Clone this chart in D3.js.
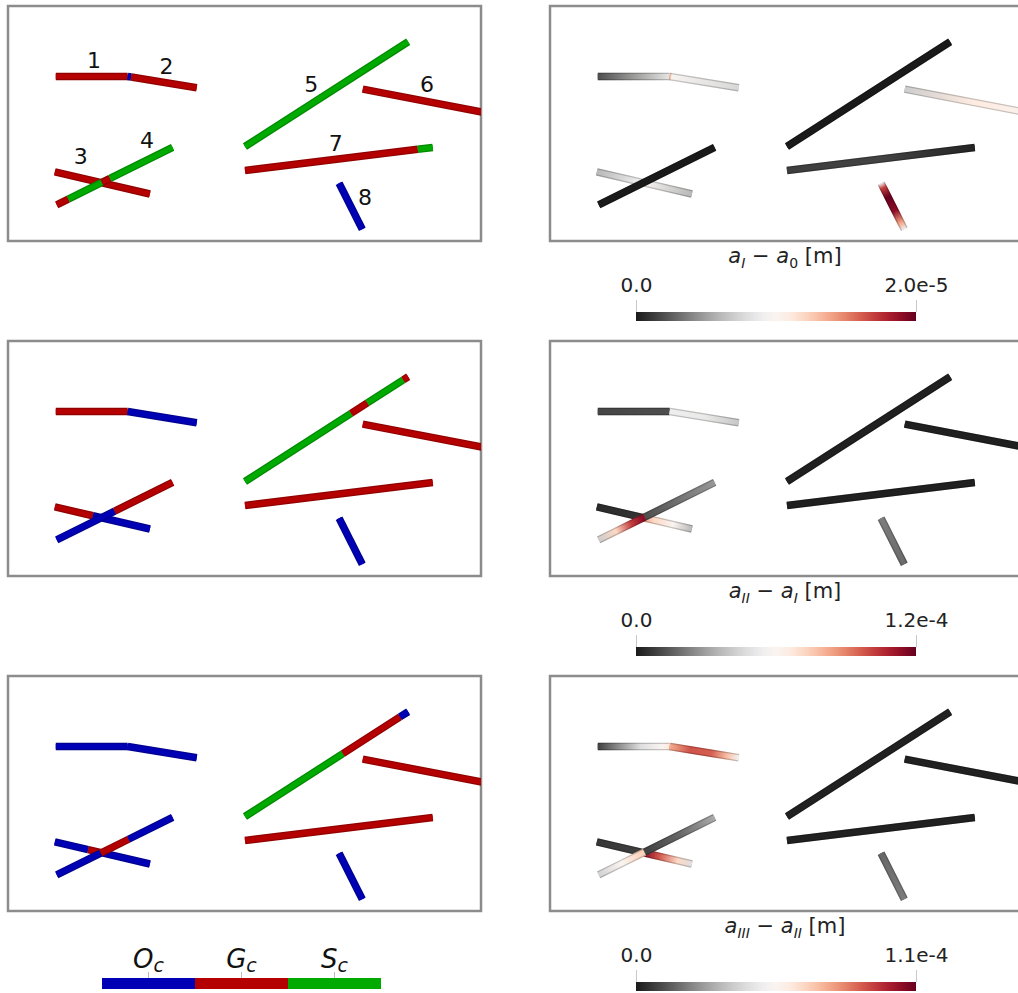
<!DOCTYPE html>
<html>
<head>
<meta charset="UTF-8">
<script src="https://d3js.org/d3.v7.min.js"></script>
<style>
  body { margin: 0; background: #fff; }
  text { font-family: "DejaVu Sans", sans-serif; }
</style>
</head>
<body>
<svg id="chart"></svg>
<script>
// fracture geometry in model units (x 0..100, y 0..50)
const fractureIds = [1, 2, 3, 4, 5, 6, 7, 8];
const fractureStart = [[10.1, 35.0], [25.3, 35.0], [9.9, 14.7], [10.3, 7.7], [50.1, 20.1], [75.0, 32.3], [50.1, 15.0], [70.0, 12.3]];
const fractureEnd = [[25.3, 35.0], [39.9, 32.6], [30.0, 10.0], [34.8, 19.9], [84.6, 42.4], [104.0, 26.7], [89.8, 19.9], [74.9, 2.5]];
const labelPos = [[18.2, 38.5], [33.5, 37.2], [15.4, 17.9], [29.4, 21.3], [64.1, 33.4], [88.6, 33.2], [69.3, 20.8], [75.5, 9.3]];

// contact state along each fracture: [from, to, state]
const stateNames = ["O", "G", "S"];
const stateColors = ["#0000b4", "#b40000", "#00aa00"];
const statesI = [
  [[0, 1, "G"]],
  [[0, 0.05, "O"], [0.05, 1, "G"]],
  [[0, 1, "G"]],
  [[0, 0.1, "G"], [0.1, 0.39, "S"], [0.39, 0.46, "G"], [0.46, 1, "S"]],
  [[0, 1, "S"]],
  [[0, 1, "G"]],
  [[0, 0.92, "G"], [0.92, 1, "S"]],
  [[0, 1, "O"]]
];
const statesII = [
  [[0, 1, "G"]],
  [[0, 1, "O"]],
  [[0, 0.4, "G"], [0.4, 1, "O"]],
  [[0, 0.5, "O"], [0.5, 1, "G"]],
  [[0, 0.65, "S"], [0.65, 0.75, "G"], [0.75, 0.97, "S"], [0.97, 1, "G"]],
  [[0, 1, "G"]],
  [[0, 1, "G"]],
  [[0, 1, "O"]]
];
const statesIII = [
  [[0, 1, "O"]],
  [[0, 1, "O"]],
  [[0, 0.35, "O"], [0.35, 0.5, "G"], [0.5, 1, "O"]],
  [[0, 0.38, "O"], [0.38, 0.62, "G"], [0.62, 1, "O"]],
  [[0, 0.6, "S"], [0.6, 0.95, "G"], [0.95, 1, "O"]],
  [[0, 1, "G"]],
  [[0, 1, "G"]],
  [[0, 1, "O"]]
];

// aperture increments along each fracture, micrometres: [position, value]
const incI = [
  [[0, 2], [1, 8.4]],
  [[0, 14], [0.03, 9.6], [1, 7.6]],
  [[0, 6], [0.45, 9], [0.5, 9.6], [1, 6]],
  [[0, 0], [1, 0]],
  [[0, 0], [1, 0]],
  [[0, 7], [0.5, 11], [1, 10]],
  [[0, 1.4], [0.5, 1.6], [1, 0.4]],
  [[0, 9], [0.1, 17], [0.3, 20], [0.6, 19], [0.85, 14], [1, 9]]
];
const incII = [
  [[0, 10], [1, 12]],
  [[0, 54], [0.5, 52], [1, 40]],
  [[0, 4], [0.49, 6], [0.5, 84], [0.6, 72], [0.8, 60], [1, 36]],
  [[0, 42], [0.15, 72], [0.28, 102], [0.38, 114], [0.39, 114], [0.4, 12], [1, 28]],
  [[0, 1.5], [1, 1.5]],
  [[0, 1.5], [1, 1.5]],
  [[0, 1.5], [1, 1.5]],
  [[0, 22], [1, 18]]
];
const incIII = [
  [[0, 8], [0.6, 44], [0.9, 55], [1, 62]],
  [[0, 75], [0.3, 90], [0.6, 88], [0.85, 70], [1, 52]],
  [[0, 6], [0.49, 8], [0.5, 105], [0.65, 90], [0.85, 66], [1, 44]],
  [[0, 40], [0.2, 55], [0.38, 68], [0.39, 68], [0.4, 8], [0.7, 16], [1, 30]],
  [[0, 1.5], [1, 1.5]],
  [[0, 1.5], [1, 1.5]],
  [[0, 1.5], [1, 1.5]],
  [[0, 16], [1, 20]]
];
const incMax = [20, 120, 110];
const titleSubs = [["I", "0"], ["II", "I"], ["III", "II"]];

const stageStates = [statesI, statesII, statesIII];
const stageInc = [incI, incII, incIII];

const W = 1018, H = 993;
const boxW = 473, boxH = 235;
const rowTop = [6, 341, 676];
const leftX = 8, rightX = 550;
const barW = 7.5;

const svg = d3.select("#chart").attr("width", W).attr("height", H);
const defs = svg.append("defs");
defs.append("clipPath").attr("id", "boxClip")
  .append("rect").attr("width", boxW).attr("height", boxH);

const x = d3.scaleLinear().domain([0, 100]).range([0, boxW]);
const y = d3.scaleLinear().domain([0, 50]).range([boxH, 0]);
const stateColor = d3.scaleOrdinal().domain(stateNames).range(stateColors);
const ramp = t => d3.interpolateRdGy(1 - Math.max(0, Math.min(1, t)));

const lerp = (a, b, t) => [a[0] + (b[0] - a[0]) * t, a[1] + (b[1] - a[1]) * t];

function panelBox(g) {
  g.append("rect")
    .attr("width", boxW).attr("height", boxH)
    .attr("fill", "none").attr("stroke", "#8c8c8c").attr("stroke-width", 2.5);
}

rowTop.forEach((top, r) => {
  // left: contact states
  const gl = svg.append("g").attr("transform", `translate(${leftX},${top})`);
  panelBox(gl);
  const sl = gl.append("g").attr("clip-path", "url(#boxClip)");
  fractureIds.forEach((id, i) => {
    const pieces = stageStates[r][i].map(([t0, t1, s]) => ({
      p0: lerp(fractureStart[i], fractureEnd[i], t0),
      p1: lerp(fractureStart[i], fractureEnd[i], t1),
      s
    }));
    const fg = sl.append("g");
    fg.selectAll("line.edge").data(pieces).join("line").attr("class", "edge")
      .attr("x1", d => x(d.p0[0])).attr("y1", d => y(d.p0[1]))
      .attr("x2", d => x(d.p1[0])).attr("y2", d => y(d.p1[1]))
      .attr("stroke", d => d3.color(stateColor(d.s)).darker(0.6))
      .attr("stroke-width", barW);
    fg.selectAll("line.core").data(pieces).join("line").attr("class", "core")
      .attr("x1", d => x(d.p0[0])).attr("y1", d => y(d.p0[1]))
      .attr("x2", d => x(d.p1[0])).attr("y2", d => y(d.p1[1]))
      .attr("stroke", d => stateColor(d.s))
      .attr("stroke-width", barW - 2.5);
  });
  if (r === 0) {
    gl.selectAll("text.lab").data(fractureIds).join("text").attr("class", "lab")
      .attr("x", (d, i) => x(labelPos[i][0]))
      .attr("y", (d, i) => y(labelPos[i][1]))
      .attr("text-anchor", "middle").attr("dominant-baseline", "central")
      .attr("font-size", 22).attr("fill", "#111")
      .text(d => d);
  }

  // right: aperture increments
  const gr = svg.append("g").attr("transform", `translate(${rightX},${top})`);
  panelBox(gr);
  const sr = gr.append("g").attr("clip-path", "url(#boxClip)");
  const max = incMax[r];
  fractureIds.forEach((id, i) => {
    const a = fractureStart[i], b = fractureEnd[i];
    const gid = `inc${r}_${i}`;
    defs.append("linearGradient").attr("id", gid)
      .attr("gradientUnits", "userSpaceOnUse")
      .attr("x1", x(a[0])).attr("y1", y(a[1]))
      .attr("x2", x(b[0])).attr("y2", y(b[1]))
      .selectAll("stop").data(stageInc[r][i]).join("stop")
      .attr("offset", d => d[0])
      .attr("stop-color", d => ramp(d[1] / max));
    const line = g => g
      .attr("x1", x(a[0])).attr("y1", y(a[1]))
      .attr("x2", x(b[0])).attr("y2", y(b[1]));
    sr.append("line").call(line).attr("stroke", `url(#${gid})`).attr("stroke-width", barW);
    sr.append("line").call(line).attr("stroke", "#000").attr("stroke-opacity", 0.2).attr("stroke-width", barW);
    sr.append("line").call(line).attr("stroke", `url(#${gid})`).attr("stroke-width", barW - 2.5);
  });

  // colorbar
  const cbId = `cb${r}`;
  defs.append("linearGradient").attr("id", cbId)
    .selectAll("stop").data(d3.range(0, 1.0001, 0.05)).join("stop")
    .attr("offset", d => d).attr("stop-color", d => ramp(d));
  const cbX = d3.scaleLinear().domain([0, max]).range([636, 916]);
  const cb = svg.append("g").attr("transform", `translate(0,${top + 306})`);
  cb.append("rect").attr("x", cbX(0)).attr("width", cbX(max) - cbX(0))
    .attr("height", 9).attr("fill", `url(#${cbId})`);
  cb.call(d3.axisTop(cbX).tickValues([0, max]).tickSize(12).tickPadding(8)
      .tickFormat(v => v === 0 ? "0.0" : d3.format(".1e")(v * 1e-6)))
    .call(g => g.select(".domain").remove())
    .call(g => g.selectAll(".tick line").attr("stroke", "#c8c8c8"))
    .call(g => g.selectAll(".tick text").attr("font-size", 20)
      .attr("font-family", "'Open Sans', sans-serif").attr("fill", "#222"));

  // colorbar title
  const t = svg.append("text").attr("x", 785).attr("y", top + 257)
    .attr("text-anchor", "middle").attr("font-size", 21)
    .attr("font-family", "'Open Sans', sans-serif").attr("fill", "#222");
  t.append("tspan").attr("font-style", "italic").text("a");
  t.append("tspan").attr("font-style", "italic").attr("font-size", 14).attr("dy", 5).text(titleSubs[r][0]);
  t.append("tspan").attr("dy", -5).text(" \u2212 ");
  t.append("tspan").attr("font-style", "italic").text("a");
  t.append("tspan").attr("font-style", titleSubs[r][1] === "0" ? "normal" : "italic")
    .attr("font-size", 14).attr("dy", 5).text(titleSubs[r][1]);
  t.append("tspan").attr("dy", -5).text(" [m]");
});

// state legend
const xLeg = d3.scaleBand().domain(stateNames).range([102, 381]);
const leg = svg.append("g");
leg.selectAll("rect").data(stateNames).join("rect")
  .attr("x", d => xLeg(d)).attr("y", 978)
  .attr("width", xLeg.bandwidth()).attr("height", 11)
  .attr("fill", d => stateColor(d));
leg.selectAll("line").data(stateNames).join("line")
  .attr("x1", d => xLeg(d) + xLeg.bandwidth() / 2).attr("x2", d => xLeg(d) + xLeg.bandwidth() / 2)
  .attr("y1", 972).attr("y2", 978).attr("stroke", "#bbb");
const lt = leg.selectAll("text").data(stateNames).join("text")
  .attr("x", d => xLeg(d) + xLeg.bandwidth() / 2).attr("y", 968)
  .attr("text-anchor", "middle").attr("font-size", 26).attr("font-style", "italic").attr("fill", "#111");
lt.append("tspan").text(d => d);
lt.append("tspan").attr("font-size", 19).attr("dy", 4).text("c");
</script>
</body>
</html>
